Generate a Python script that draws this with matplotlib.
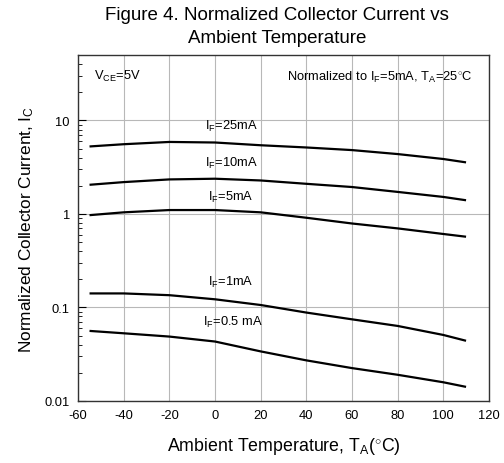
import matplotlib
matplotlib.use("Agg")
import matplotlib.pyplot as plt
from matplotlib.ticker import LogLocator, NullFormatter

plt.rcParams['font.family'] = ['Liberation Sans', 'DejaVu Sans']
plt.rcParams['mathtext.fontset'] = 'custom'
plt.rcParams['mathtext.rm'] = 'Liberation Sans'
plt.rcParams['mathtext.it'] = 'Liberation Sans'
plt.rcParams['axes.unicode_minus'] = False

temps = [-55, -40, -20, 0, 20, 40, 60, 80, 100, 110]
i25 = [5.27, 5.57, 5.89, 5.81, 5.43, 5.14, 4.82, 4.37, 3.87, 3.56]
i10 = [2.05, 2.19, 2.34, 2.38, 2.28, 2.10, 1.94, 1.72, 1.52, 1.40]
i5 = [0.97, 1.04, 1.10, 1.10, 1.04, 0.91, 0.79, 0.70, 0.61, 0.57]
i1 = [0.141, 0.141, 0.135, 0.122, 0.106, 0.088, 0.0745, 0.0633, 0.0507, 0.0439]
i05 = [0.056, 0.0528, 0.0487, 0.0431, 0.0338, 0.0271, 0.0224, 0.0190, 0.0158, 0.0141]
series = [i25, i10, i5, i1, i05]
labels = [r'I$_F$=25mA', r'I$_F$=10mA', r'I$_F$=5mA', r'I$_F$=1mA', r'I$_F$=0.5 mA']
label_y = [8.8, 3.57, 1.52, 0.189, 0.071]
label_x = [7, 7, 7, 7, 8]
xticks = [-60, -40, -20, 0, 20, 40, 60, 80, 100, 120]
yticks = [0.01, 0.1, 1, 10]
yticklabels = ['0.01', '0.1', '1', '10']

fig = plt.figure(figsize=(5.04, 4.64), dpi=100)
ax = fig.add_axes([0.155, 0.134, 0.815, 0.745])

for s in series:
    ax.plot(temps, s, color='black', lw=1.6, solid_capstyle='butt', solid_joinstyle='round')

for lab, lx, ly in zip(labels, label_x, label_y):
    ax.text(lx, ly, lab, fontsize=9.3, ha='center', va='center')

ax.set_yscale('log')
ax.set_xlim(-60, 120)
ax.set_ylim(0.01, 50)
ax.set_xticks(xticks)
ax.set_yticks(yticks)
ax.set_yticklabels(yticklabels)
ax.yaxis.set_minor_locator(LogLocator(base=10, subs=range(2, 10)))
ax.yaxis.set_minor_formatter(NullFormatter())
ax.tick_params(axis='both', which='both', direction='in', labelsize=9.3, pad=6)
ax.tick_params(axis='y', which='major', length=6)
ax.tick_params(axis='y', which='minor', length=3)
ax.tick_params(axis='x', which='major', length=0)
ax.tick_params(right=False, top=False)

ax.grid(True, which='major', color='#b8b8b8', lw=0.8)
ax.set_axisbelow(True)
for sp in ax.spines.values():
    sp.set_linewidth(1.0)
    sp.set_color('#333333')

ax.text(-53, 30, r'V$_{CE}$=5V', fontsize=9.3, ha='left', va='center')
ax.text(113, 30, r'Normalized to I$_F$=5mA, T$_A$=25$^{\circ}$C', fontsize=9.3, ha='right', va='center')

ax.set_xlabel(r'Ambient Temperature, T$_A$($^{\circ}$C)', fontsize=12.8, labelpad=10)
ax.set_ylabel(r'Normalized Collector Current, I$_C$', fontsize=12.4, labelpad=6)
fig.suptitle('Figure 4. Normalized Collector Current vs\nAmbient Temperature', fontsize=13.5,
             y=0.985, x=0.55, va='top', linespacing=1.45)

fig.savefig('out.png', dpi=100)
